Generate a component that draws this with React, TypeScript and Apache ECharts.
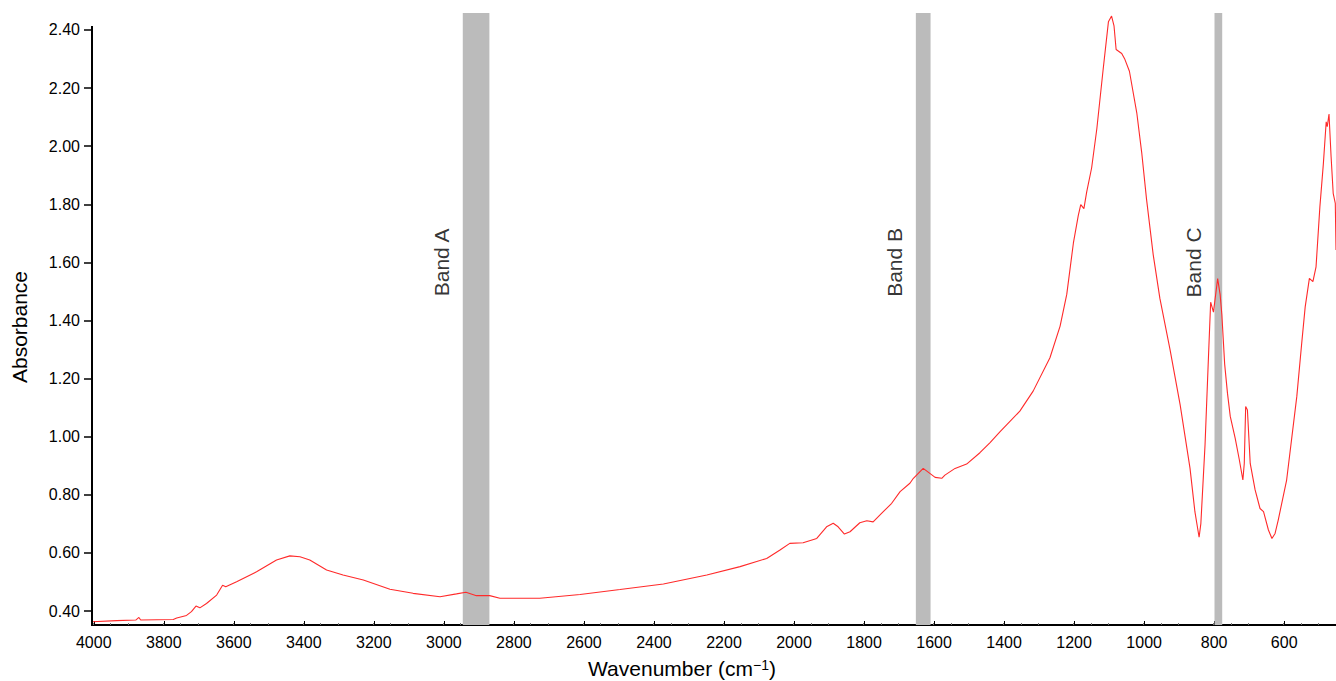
import React, { useEffect, useRef } from "react";
import * as echarts from "echarts";

// Spectrum (wavenumber in cm^-1, absorbance)
const wavenumbers = [
  4004, 3935, 3880, 3871, 3866, 3773, 3763, 3735, 3721, 3708, 3697, 3678, 3649, 3632, 3623, 3592,
  3535, 3478, 3440, 3411, 3383, 3335, 3288, 3230, 3154, 3088, 3011, 2964, 2937, 2907, 2869, 2840,
  2811, 2726, 2611, 2497, 2373, 2249, 2154, 2078, 2040, 2012, 1974, 1935, 1907, 1888, 1874, 1856,
  1840, 1812, 1792, 1774, 1750, 1721, 1697, 1669, 1659, 1631, 1612, 1597, 1578, 1569, 1540, 1507,
  1469, 1440, 1412, 1355, 1317, 1269, 1240, 1221, 1202, 1188, 1181, 1172, 1164, 1150, 1135, 1117,
  1102, 1093, 1086, 1080, 1064, 1055, 1042, 1021, 1007, 993, 974, 955, 926, 897, 869, 855,
  843, 838, 826, 815, 810, 802, 790, 783, 778, 770, 762, 754, 740, 728, 718, 714,
  710, 705, 697, 683, 669, 659, 645, 635, 626, 617, 593, 564, 550, 540, 528, 518,
  509, 498, 488, 480, 477, 472, 466, 460, 454, 452,
];
const absorbance = [
  0.363, 0.367, 0.369, 0.378, 0.369, 0.371, 0.376, 0.385, 0.398, 0.417, 0.411, 0.426, 0.455, 0.489, 0.484, 0.501,
  0.535, 0.576, 0.59, 0.587, 0.576, 0.541, 0.524, 0.507, 0.475, 0.461, 0.449, 0.459, 0.465, 0.453, 0.453, 0.444,
  0.444, 0.444, 0.457, 0.474, 0.493, 0.524, 0.553, 0.581, 0.61, 0.633, 0.635, 0.65, 0.69, 0.702, 0.69, 0.665,
  0.673, 0.704, 0.711, 0.707, 0.736, 0.771, 0.811, 0.84, 0.857, 0.891, 0.874, 0.86, 0.857, 0.868, 0.891, 0.906,
  0.945, 0.98, 1.017, 1.088, 1.157, 1.272, 1.381, 1.49, 1.667, 1.762, 1.799, 1.785, 1.843, 1.925, 2.061, 2.265,
  2.428, 2.448, 2.414, 2.333, 2.319, 2.299, 2.258, 2.115, 1.979, 1.816, 1.626, 1.476, 1.3, 1.109, 0.892, 0.742,
  0.654, 0.701, 0.973, 1.313, 1.463, 1.429, 1.544, 1.49, 1.42, 1.25, 1.15, 1.07, 0.995, 0.92, 0.851, 0.908,
  1.104, 1.092, 0.908, 0.817, 0.753, 0.742, 0.679, 0.65, 0.667, 0.713, 0.851, 1.138, 1.321, 1.447, 1.545, 1.534,
  1.585, 1.792, 1.941, 2.084, 2.067, 2.111, 1.964, 1.838, 1.803, 1.643,
];

// Highlighted bands
const bandNames = ["Band A", "Band B", "Band C"];
const bandStart = [2946, 1652, 799];
const bandEnd = [2870, 1610, 777];

// Tick labels
const xTicks = [4000, 3800, 3600, 3400, 3200, 3000, 2800, 2600, 2400, 2200, 2000, 1800, 1600, 1400, 1200, 1000, 800, 600];
const yTicks = [0.4, 0.6, 0.8, 1.0, 1.2, 1.4, 1.6, 1.8, 2.0, 2.2, 2.4];

const X_MIN = 452;
const X_MAX = 4005;
const Y_MIN = 0.352;
const Y_MAX = 2.4585;
const Y_AXIS_TOP = 2.414;

const FONT = "'Liberation Sans', Arial, Helvetica, sans-serif";

export default function App() {
  const ref = useRef<HTMLDivElement>(null);

  useEffect(() => {
    if (!ref.current) return;
    const chart = echarts.init(ref.current, null, { renderer: "svg" });

    const lineData = wavenumbers.map((w, i) => [w, absorbance[i]]);
    const labelData = bandNames.map((n, i) => ({ value: [bandStart[i] + 60, 1.6], name: n }));

    chart.setOption({
      animation: false,
      backgroundColor: "#ffffff",
      grid: { left: 92, right: 0, top: 13, bottom: 56, containLabel: false, outerBoundsMode: "none" },
      xAxis: {
        type: "value",
        inverse: true,
        min: X_MIN,
        max: X_MAX,
        interval: 200,
        name: "Wavenumber (cm{sup|−1})",
        nameLocation: "middle",
        nameGap: 33,
        nameTextStyle: {
          fontFamily: FONT,
          fontSize: 21,
          color: "#000",
          padding: [0, 64, 0, 0],
          rich: {
            sup: { fontFamily: FONT, fontSize: 14, color: "#000", verticalAlign: "top", padding: [0, 0, 4, 0] },
          },
        },
        axisLine: { show: true, lineStyle: { color: "#000", width: 2 } },
        axisTick: { show: true, inside: true, length: 4, customValues: xTicks, lineStyle: { color: "#000", width: 1 } },
        minorTick: { show: true, splitNumber: 4, length: 2, lineStyle: { color: "#777", width: 1 } },
        axisLabel: {
          customValues: xTicks,
          margin: 9,
          fontFamily: FONT,
          fontSize: 16,
          color: "#000",
          formatter: (v: number) => String(Math.round(v)),
        },
        splitLine: { show: false },
      },
      yAxis: {
        type: "value",
        min: Y_MIN,
        max: Y_MAX,
        interval: 0.2,
        name: "Absorbance",
        nameLocation: "middle",
        nameGap: 62,
        nameTextStyle: { fontFamily: FONT, fontSize: 21, color: "#000", padding: [0, 16, 0, 0] },
        axisLine: { show: false },
        axisTick: { show: true, inside: false, length: 8, customValues: yTicks, lineStyle: { color: "#000", width: 1.5 } },
        axisLabel: {
          customValues: yTicks,
          margin: 12,
          fontFamily: FONT,
          fontSize: 16,
          color: "#000",
          formatter: (v: number) => v.toFixed(2),
        },
        splitLine: { show: false },
      },
      series: [
        {
          type: "line",
          data: [],
          z: 1,
          silent: true,
          markArea: {
            silent: true,
            itemStyle: { color: "#bbbbbb", opacity: 1 },
            data: bandNames.map((_, i) => [{ xAxis: bandStart[i] }, { xAxis: bandEnd[i] }]),
          },
        },
        {
          type: "line",
          data: lineData,
          z: 3,
          showSymbol: false,
          symbol: "none",
          silent: true,
          lineStyle: { color: "#ff2a2a", width: 1.1 },
        },
        {
          type: "scatter",
          data: labelData,
          z: 4,
          symbolSize: 0,
          silent: true,
          label: {
            show: true,
            position: "inside",
            rotate: 90,
            align: "center",
            verticalAlign: "middle",
            formatter: (p: any) => p.name,
            fontFamily: FONT,
            fontSize: 21,
            color: "#000",
          },
        },
      ],
    });

    const p1 = chart.convertToPixel({ xAxisIndex: 0, yAxisIndex: 0 }, [X_MAX, Y_AXIS_TOP]) as number[];
    const p2 = chart.convertToPixel({ xAxisIndex: 0, yAxisIndex: 0 }, [X_MAX, Y_MIN]) as number[];
    chart.setOption({
      graphic: [
        {
          type: "line",
          z: 10,
          silent: true,
          shape: { x1: p1[0], y1: p1[1], x2: p2[0], y2: p2[1] + 1 },
          style: { stroke: "#000", lineWidth: 2 },
        },
      ],
    });

    return () => chart.dispose();
  }, []);

  return (
    <div
      ref={ref}
      style={{ position: "fixed", left: 0, top: 0, width: 1336, height: 681, background: "#fff" }}
    />
  );
}
